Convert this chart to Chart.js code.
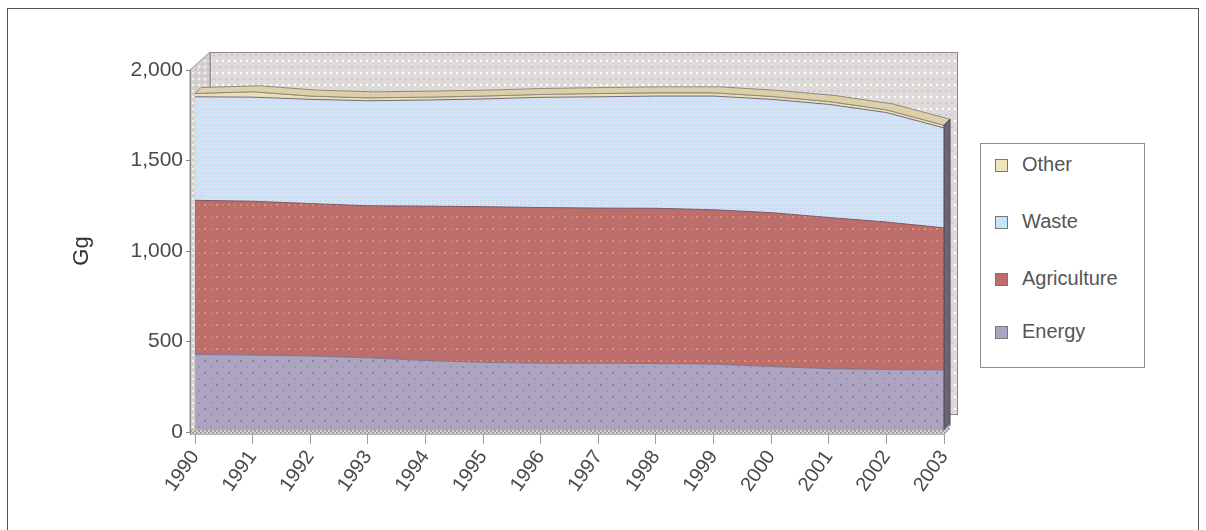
<!DOCTYPE html>
<html lang="en">
<head>
  <meta charset="UTF-8" />
  <title>Emissions by sector, Gg</title>
  <script src="https://cdn.jsdelivr.net/npm/chart.js"></script>
  <style>
    body {
      margin: 0;
      background: #fff;
      font-family: 'Liberation Sans', Arial, sans-serif;
    }

    #frame {
      position: absolute;
      left: 7px;
      top: 8px;
      width: 1190px;
      height: 540px;
      border: 1px solid #555;
    }

    #wrap {
      position: absolute;
      left: 0;
      top: 0;
      width: 1206px;
      height: 530px;
    }

    #legend {
      position: absolute;
      left: 980px;
      top: 143px;
      width: 163px;
      height: 223px;
      border: 1px solid #8c8c8c;
      background: #fff;
    }

    .item {
      position: absolute;
      left: 14px;
      height: 24px;
      line-height: 24px;
      font-size: 20px;
      color: #555;
      white-space: nowrap;
    }

    .sw {
      display: inline-block;
      width: 11px;
      height: 11px;
      border: 1px solid #777;
      margin-right: 14px;
      vertical-align: -1px;
    }
  </style>
</head>
<body>
  <div id="frame"></div>
  <div id="wrap"><canvas id="chart" width="1206" height="530"></canvas></div>

  <div id="legend">
    <div class="item" style="top:8px"><span class="sw" style="background:#efe4bd"></span>Other</div>
    <div class="item" style="top:65px"><span class="sw" style="background:#c4e6f8"></span>Waste</div>
    <div class="item" style="top:122px"><span class="sw" style="background:#bc6e6c"></span>Agriculture</div>
    <div class="item" style="top:175px"><span class="sw" style="background:#aca4c0"></span>Energy</div>
  </div>

<script>
// values (Gg)
const years = ['1990', '1991', '1992', '1993', '1994', '1995', '1996',
               '1997', '1998', '1999', '2000', '2001', '2002', '2003'];
const energy      = [429, 425, 420, 410, 395, 385, 380, 380, 378, 375, 362, 350, 345, 343];
const agriculture = [851, 850, 842, 840, 853, 860, 860, 857, 858, 853, 850, 835, 815, 785];
const waste       = [572, 575, 576, 580, 586, 595, 609, 615, 620, 628, 626, 625, 605, 552];
const other       = [ 18,  30,  18,  16,  16,  16,  16,  18,  18,  18,  16,  16,  15,  15];
const yTicks = [0, 500, 1000, 1500, 2000];

function makePattern(w, h, base, dots) {
  const c = document.createElement('canvas');
  c.width = w;
  c.height = h;
  const g = c.getContext('2d');
  g.fillStyle = base;
  g.fillRect(0, 0, w, h);
  dots.forEach(([x, y, s, col]) => {
    g.fillStyle = col;
    g.fillRect(x, y, s, s);
  });
  return g.createPattern(c, 'repeat');
}

const energyFill = makePattern(12, 12, '#aca4c0', [[0, 0, 2, '#8a859c'], [6, 6, 2, '#9a94ae']]);
const agriFill   = makePattern(12, 12, '#bc6e6c', [[0, 0, 2, '#ec8e62'], [6, 0, 2, '#d47e66']]);
const wasteFill  = makePattern(4, 4, '#c2eafc', [[0, 0, 1, '#cdc2e2'], [2, 2, 1, '#d8d6dc']]);
const otherFill  = '#eadfb9';
const wallFill   = makePattern(12, 12, '#dedad8', [[0, 0, 2, '#ffffff'], [6, 0, 2, '#ffffff'], [3, 6, 2, '#c6c2e0'], [9, 6, 2, '#c6c2e0']]);
const sideFill   = makePattern(6, 6, '#d6d2d0', [[0, 0, 2, '#f4f2f0'], [3, 3, 2, '#c4c0d8']]);
const floorFill  = makePattern(4, 4, '#d6d2ce', [[0, 0, 2, '#a49e9a'], [2, 2, 2, '#a49e9a']]);

// fake 3D: back wall, side wall, floor, top surface and right face
const depthPlugin = {
  id: 'depth',
  beforeDatasetsDraw(chart) {
    const { ctx, chartArea: ca } = chart;
    const x0 = ca.left - 5;
    ctx.save();
    // back wall
    ctx.fillStyle = wallFill;
    ctx.fillRect(ca.left + 15, ca.top - 18, ca.right - ca.left - 2, ca.bottom - ca.top);
    ctx.strokeStyle = '#8e8884';
    ctx.lineWidth = 1;
    ctx.strokeRect(ca.left + 15.5, ca.top - 17.5, ca.right - ca.left - 2, ca.bottom - ca.top);
    // left side wall
    ctx.beginPath();
    ctx.moveTo(x0, ca.top);
    ctx.lineTo(ca.left + 15, ca.top - 18);
    ctx.lineTo(ca.left + 15, ca.bottom - 18);
    ctx.lineTo(x0, ca.bottom);
    ctx.closePath();
    ctx.fillStyle = sideFill;
    ctx.fill();
    ctx.strokeStyle = '#9a9490';
    ctx.stroke();
    ctx.restore();
  },
  afterDatasetsDraw(chart) {
    const { ctx, chartArea: ca } = chart;
    const top = chart.getDatasetMeta(3).data;
    const d = 6;
    ctx.save();
    // top surface of the stack
    ctx.beginPath();
    top.forEach((p, i) => (i ? ctx.lineTo(p.x, p.y) : ctx.moveTo(p.x, p.y)));
    for (let i = top.length - 1; i >= 0; i--) ctx.lineTo(top[i].x + d, top[i].y - d);
    ctx.closePath();
    ctx.fillStyle = '#ddd0a8';
    ctx.fill();
    ctx.strokeStyle = '#8f8980';
    ctx.lineWidth = 1;
    ctx.stroke();
    // right face
    const last = top[top.length - 1];
    ctx.beginPath();
    ctx.moveTo(last.x, last.y);
    ctx.lineTo(last.x + d, last.y - d);
    ctx.lineTo(last.x + d, ca.bottom - d);
    ctx.lineTo(last.x, ca.bottom);
    ctx.closePath();
    ctx.fillStyle = '#6a6474';
    ctx.fill();
    ctx.strokeStyle = '#4c4854';
    ctx.stroke();
    // floor edge in front
    ctx.beginPath();
    ctx.moveTo(ca.left - 5, ca.bottom - 2);
    ctx.lineTo(ca.right, ca.bottom - 2);
    ctx.lineTo(ca.right + d, ca.bottom - 2 - d);
    ctx.lineTo(ca.right + d, ca.bottom + 3 - d);
    ctx.lineTo(ca.right, ca.bottom + 3);
    ctx.lineTo(ca.left - 5, ca.bottom + 3);
    ctx.closePath();
    ctx.fillStyle = floorFill;
    ctx.fill();
    // front axis edge
    ctx.beginPath();
    ctx.moveTo(ca.left - 4.5, ca.top);
    ctx.lineTo(ca.left - 4.5, ca.bottom + 3);
    ctx.strokeStyle = '#8a8480';
    ctx.stroke();
    ctx.restore();
  }
};

const series = [
  { label: 'Energy', data: energy, backgroundColor: energyFill, borderColor: '#7f7690', fill: 'origin' },
  { label: 'Agriculture', data: agriculture, backgroundColor: agriFill, borderColor: '#7c5a62', fill: '-1' },
  { label: 'Waste', data: waste, backgroundColor: wasteFill, borderColor: '#6e6c7c', fill: '-1' },
  { label: 'Other', data: other, backgroundColor: otherFill, borderColor: '#96907e', fill: '-1' }
];

new Chart(document.getElementById('chart'), {
  type: 'line',
  data: {
    labels: years,
    datasets: series.map(s => ({ ...s, borderWidth: 1, pointRadius: 0, tension: 0 }))
  },
  options: {
    responsive: false,
    animation: false,
    layout: { padding: { left: 58, right: 262, top: 70, bottom: 0 } },
    plugins: {
      legend: { display: false },
      tooltip: { enabled: false }
    },
    scales: {
      x: {
        offset: false,
        grid: { drawOnChartArea: false, tickLength: 12, color: '#a09a96' },
        border: { display: false },
        ticks: {
          autoSkip: false,
          maxRotation: 55,
          minRotation: 55,
          padding: 2,
          color: '#4a4a4a',
          font: { family: 'Liberation Sans', size: 20 }
        },
        afterFit: s => { s.height = 98; }
      },
      y: {
        stacked: true,
        min: 0,
        max: 2000,
        afterBuildTicks: s => { s.ticks = yTicks.map(v => ({ value: v })); },
        grid: { drawOnChartArea: false, tickLength: 9, color: '#8a8480' },
        border: { display: false },
        ticks: {
          padding: 3,
          color: '#4a4a4a',
          font: { family: 'Liberation Sans', size: 21 },
          callback: v => v.toLocaleString('en-US')
        },
        title: {
          display: true,
          text: 'Gg',
          color: '#333',
          font: { family: 'Liberation Sans', size: 22 },
          padding: { top: 11, bottom: 0 }
        },
        afterFit: s => { s.width = 137; }
      }
    }
  },
  plugins: [depthPlugin]
});
</script>
</body>
</html>
